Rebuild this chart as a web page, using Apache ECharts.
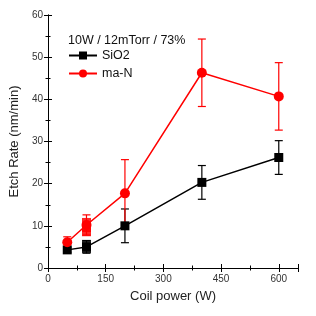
<!DOCTYPE html>
<html><head><meta charset="utf-8">
<script src="https://cdn.jsdelivr.net/npm/echarts@6/dist/echarts.min.js"></script>
<style>html,body{margin:0;padding:0;background:#fff}#c{width:316px;height:316px}</style>
</head><body><div id="c"></div>
<script>
const powers = [50, 100, 200, 400, 600];
const sio2 = [4.3, 5.0, 10.0, 20.3, 26.2];
const sio2Err = [0.6, 1.5, 4.0, 4.0, 4.0];
const man = [6.1, 10.2, 17.7, 46.3, 40.7];
const manErr = [1.3, 2.4, 8.0, 8.0, 8.0];
const extraPower = 100;
const sio2Extra = [4.6, 5.6];
const manExtra = [8.6, 9.6, 10.8];
const xTicks = [0, 150, 300, 450, 600];
const annotation = '10W / 12mTorr / 73%';

const chart = echarts.init(document.getElementById('c'));
const font = 'Liberation Sans, Arial, sans-serif';

function errData(xs, ys, es) { return xs.map((x, i) => [x, ys[i] - es[i], ys[i] + es[i]]); }
function errSeries(data, color) {
  return {
    type: 'custom', z: 1, silent: true,
    renderItem: function (params, api) {
      const lo = api.coord([api.value(0), api.value(1)]);
      const hi = api.coord([api.value(0), api.value(2)]);
      const w = 4;
      const style = { stroke: color, lineWidth: 1.2, fill: null };
      return { type: 'group', children: [
        { type: 'line', shape: { x1: lo[0], y1: lo[1], x2: hi[0], y2: hi[1] }, style },
        { type: 'line', shape: { x1: lo[0]-w, y1: lo[1], x2: lo[0]+w, y2: lo[1] }, style },
        { type: 'line', shape: { x1: hi[0]-w, y1: hi[1], x2: hi[0]+w, y2: hi[1] }, style }
      ]};
    },
    data: data
  };
}

const axisLine = { show: true, lineStyle: { color: '#000', width: 1 } };
chart.setOption({
  animation: false,
  textStyle: { fontFamily: font },
  title: { text: annotation, left: 63, top: 29, textStyle: { fontSize: 12.5, fontWeight: 'normal', color: '#111', fontFamily: font } },
  legend: {
    orient: 'vertical', left: 63, top: 44, itemWidth: 28, itemHeight: 10, itemGap: 5,
    textStyle: { fontSize: 12.5, color: '#111', fontFamily: font },
    data: ['SiO2', 'ma-N']
  },
  grid: { left: 47, right: 18, top: 15, bottom: 48 },
  xAxis: [{
    type: 'value', min: 0, max: 650, interval: 150,
    name: 'Coil power (W)', nameLocation: 'middle', nameGap: 22,
    nameTextStyle: { fontSize: 13, color: '#222' },
    axisLine, axisTick: { show: true, inside: true, length: 4, lineStyle: { color: '#000' } },
    minorTick: { show: true, splitNumber: 2, length: 2.5, lineStyle: { color: '#000' } },
    axisLabel: { fontSize: 10, color: '#333', margin: 6, showMaxLabel: false, formatter: v => xTicks.includes(v) ? String(v) : '' },
    splitLine: { show: false }
  }, {
    type: 'value', min: 0, max: 650, interval: 150, position: 'top',
    axisLine, axisTick: { show: true, inside: true, length: 4, lineStyle: { color: '#000' } },
    minorTick: { show: true, splitNumber: 2, length: 2.5, lineStyle: { color: '#000' } },
    axisLabel: { show: false }, splitLine: { show: false }
  }],
  yAxis: [{
    type: 'value', min: 0, max: 60, interval: 10,
    name: 'Etch Rate (nm/min)', nameLocation: 'middle', nameGap: 22,
    nameTextStyle: { fontSize: 13, color: '#222' },
    axisLine, axisTick: { show: true, inside: true, length: 4, lineStyle: { color: '#000' } },
    minorTick: { show: true, splitNumber: 2, length: 2.5, lineStyle: { color: '#000' } },
    axisLabel: { fontSize: 10, color: '#333', margin: 5 },
    splitLine: { show: false }
  }, {
    type: 'value', min: 0, max: 60, interval: 10, position: 'right',
    axisLine, axisTick: { show: true, inside: true, length: 4, lineStyle: { color: '#000' } },
    minorTick: { show: true, splitNumber: 2, length: 2.5, lineStyle: { color: '#000' } },
    axisLabel: { show: false }, splitLine: { show: false }
  }],
  series: [
    errSeries(errData(powers, sio2, sio2Err), '#000'),
    errSeries(errData(powers, man, manErr), '#f00'),
    {
      name: 'SiO2', type: 'line', z: 3, data: powers.map((x, i) => [x, sio2[i]]),
      symbol: 'rect', symbolSize: 9, itemStyle: { color: '#000' }, lineStyle: { color: '#000', width: 1.5 }
    },
    {
      type: 'scatter', z: 3, data: sio2Extra.map(v => [extraPower, v]),
      symbol: 'rect', symbolSize: 9, itemStyle: { color: '#000', opacity: 0.85 }
    },
    {
      name: 'ma-N', type: 'line', z: 4, data: powers.map((x, i) => [x, man[i]]),
      symbol: 'circle', symbolSize: 10, itemStyle: { color: '#f00' }, lineStyle: { color: '#f00', width: 1.5 }
    },
    {
      type: 'scatter', z: 4, data: manExtra.map(v => [extraPower, v]),
      symbol: 'rect', symbolSize: 9, itemStyle: { color: '#f00', opacity: 0.85 }
    }
  ]
});
</script>
</body></html>
